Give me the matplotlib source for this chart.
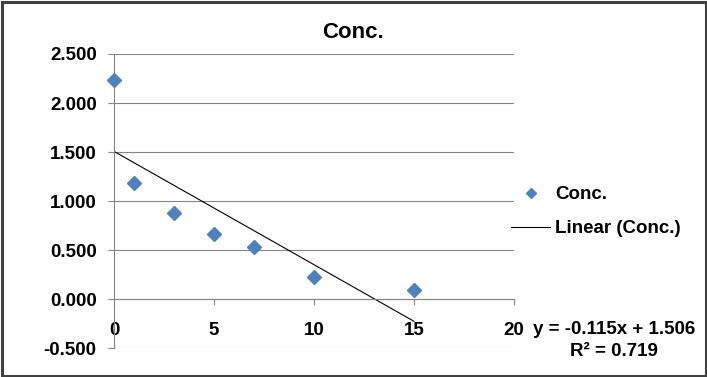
import matplotlib.pyplot as plt
import numpy as np
from matplotlib.lines import Line2D
from matplotlib.patches import Rectangle

plt.rcParams['font.family'] = 'Liberation Sans'
plt.rcParams['font.weight'] = 'bold'

# data
time_x = [0, 1, 3, 5, 7, 10, 15]
conc = [2.231, 1.180, 0.880, 0.670, 0.535, 0.230, 0.090]
y_ticks = [-0.5, 0.0, 0.5, 1.0, 1.5, 2.0, 2.5]
x_ticks = [0, 5, 10, 15, 20]
eq_text = 'y = -0.115x + 1.506'
r2_text = 'R\u00b2 = 0.719'

W, H = 707, 377
fig = plt.figure(figsize=(W / 100, H / 100), dpi=100)
ax = fig.add_axes([114 / W, (H - 348.3) / H, 400 / W, (348.3 - 54) / H])

blue = '#4F81BD'
grid_c = '#868686'

ax.plot(time_x, conc, linestyle='none', marker='D', markersize=7.5,
        color=blue, markeredgecolor=blue, zorder=3, clip_on=False)

# linear trendline over the data range
slope, icpt = np.polyfit(time_x, conc, 1)
xx = np.array([min(time_x), max(time_x)])
ax.plot(xx, slope * xx + icpt, color='black', linewidth=0.8, zorder=2)

ax.set_xlim(0, 20)
ax.set_ylim(-0.5, 2.5)
ax.set_yticks(y_ticks)
ax.set_xticks(x_ticks)
ax.set_yticklabels([f'{v:.3f}' for v in y_ticks])
ax.set_xticklabels([str(v) for v in x_ticks])
ax.yaxis.grid(True, color=grid_c, linewidth=0.8)
ax.set_axisbelow(True)

for s in ['top', 'right']:
    ax.spines[s].set_visible(False)
ax.spines['left'].set_color(grid_c)
ax.spines['left'].set_linewidth(0.8)
ax.spines['bottom'].set_position(('data', 0))
ax.spines['bottom'].set_color(grid_c)
ax.spines['bottom'].set_linewidth(0.8)

ax.tick_params(axis='y', direction='out', length=4.5, width=0.8, color=grid_c,
               pad=8, labelsize=13.5)
ax.tick_params(axis='x', direction='out', length=4.5, width=0.8, color=grid_c,
               pad=12, labelsize=13.5)

fig.text(353 / W, 1 - 33 / H, 'Conc.', ha='center', va='center', fontsize=16)

handles = [Line2D([], [], linestyle='none', marker='D', markersize=5.5,
                  color=blue, label='Conc.'),
           Line2D([], [], color='black', linewidth=0.8, label='Linear (Conc.)')]
fig.legend(handles=handles, loc='upper left', bbox_to_anchor=(511 / W, 1 - 186 / H),
           frameon=False, fontsize=13.5, handlelength=2.1, handletextpad=0.25,
           labelspacing=0.9, borderpad=0, borderaxespad=0)

fig.text(614 / W, 1 - 329 / H, eq_text, ha='center', va='center', fontsize=13.5)
fig.text(614 / W, 1 - 351 / H, r2_text, ha='center', va='center', fontsize=13.5)

fig.patches.append(Rectangle((1.5 / W, 1.5 / H), 1 - 3 / W, 1 - 3 / H,
                             transform=fig.transFigure, fill=False,
                             edgecolor='#404040', linewidth=2.2))

fig.savefig('out.png', dpi=100)
